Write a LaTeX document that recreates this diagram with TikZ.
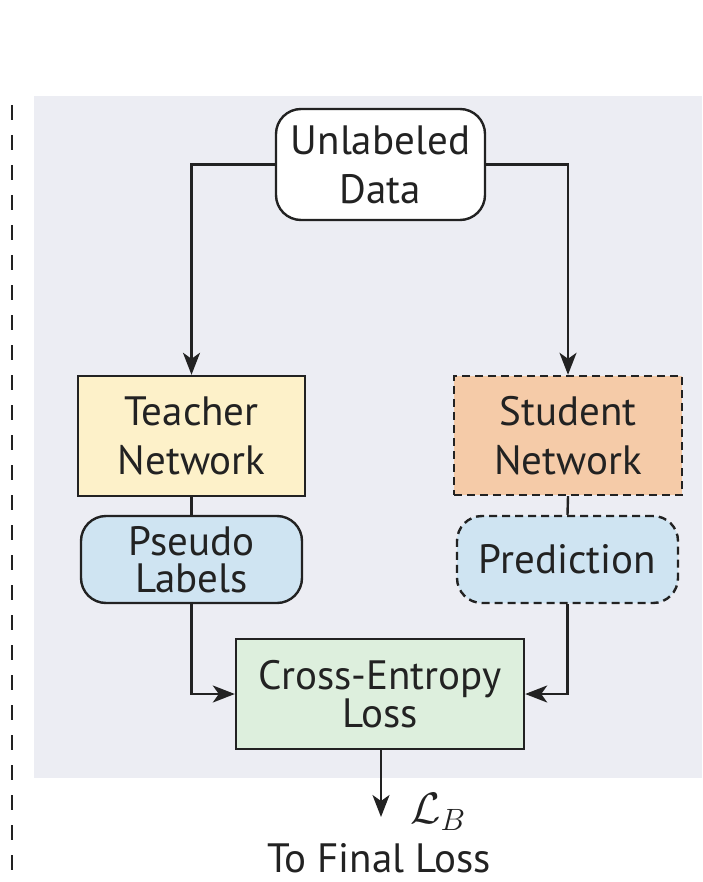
\RequirePackage{fix-cm}
\documentclass[tikz,border=0pt]{standalone}
\usepackage{fontspec}
\setmainfont{PT Sans}
\usetikzlibrary{arrows.meta}
\definecolor{bgc}{HTML}{ECEDF3}
\definecolor{teach}{HTML}{FDF1C9}
\definecolor{stud}{HTML}{F5CBA8}
\definecolor{pseu}{HTML}{CFE4F2}
\definecolor{cel}{HTML}{DDEFDD}
\definecolor{ink}{HTML}{222222}
\tikzset{
  box/.style={draw=ink, line width=2.4pt, text=ink, align=center, inner sep=0pt,
    font=\fontsize{41}{49}\selectfont},
  tight/.style={font=\fontsize{41}{37}\selectfont},
  rbox/.style={box, rounded corners=25pt},
  dsh/.style={dash pattern=on 8pt off 5pt},
  conn/.style={draw=ink, line width=2.4pt},
  arr/.style={conn, -{Stealth[length=22pt,width=17pt,inset=6pt]}},
}
\begin{document}
\begin{tikzpicture}[x=1pt,y=-1pt]
\useasboundingbox (0,0) rectangle (702,882);
\fill[bgc] (34,96) rectangle (702,778);
\draw[ink, line width=2.4pt, dash pattern=on 15pt off 15pt] (12,105) -- (12,882);

\node[rbox, fill=white, minimum width=209pt, minimum height=111pt] (u) at (380.5,164.5) {Unlabeled\\Data};
\node[box, fill=teach, minimum width=227pt, minimum height=120pt] (t) at (191.5,436) {Teacher\\Network};
\node[box, dsh, fill=stud, minimum width=228pt, minimum height=119pt] (s) at (568,435.5) {Student\\Network};
\node[rbox, tight, fill=pseu, minimum width=221pt, minimum height=87pt] (p) at (191.5,559.5) {Pseudo\\Labels};
\node[rbox, dsh, fill=pseu, minimum width=221pt, minimum height=87pt] (q) at (567.5,559.5) {Prediction};
\node[box, tight, fill=cel, minimum width=288pt, minimum height=110pt] (c) at (380,694) {Cross-Entropy\\Loss};
\coordinate (o) at (381,817);
\node[text=ink, font=\fontsize{44}{50}\selectfont, inner sep=0pt] (lb) at (438,812) {$\mathcal{L}_B$};
\node[text=ink, font=\fontsize{41}{46}\selectfont, inner sep=0pt] (fl) at (379,858) {To Final Loss};

\draw[arr] (u.west) -| (t.north);
\draw[arr] (u.east) -| (s.north);
\draw[conn] (t.south) -- (p.north);
\draw[conn] (s.south) -- (q.north);
\draw[arr] (p.south) |- (c.west);
\draw[arr] (q.south) |- (c.east);
\draw[arr] (c.south -| o) -- (o);
\end{tikzpicture}
\end{document}
